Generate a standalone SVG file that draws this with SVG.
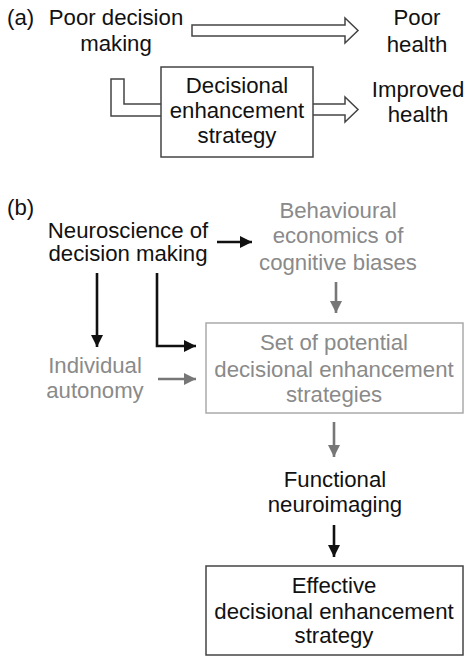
<svg xmlns="http://www.w3.org/2000/svg" width="464" height="656" viewBox="0 0 464 656">
<style>
text{font-family:"Liberation Sans",Arial,sans-serif;font-size:22.2px;text-anchor:middle;fill:#111}
.g{fill:#8a8a8a}
.lbl{text-anchor:start}
.hollow{fill:#fff;stroke:#444;stroke-width:1.5}
.box{fill:#fff;stroke:#444;stroke-width:1.5}
.gbox{fill:#fff;stroke:#aaa;stroke-width:1.5}
.ab{fill:none;stroke:#111;stroke-width:2.6;marker-end:url(#hb)}
.ag{fill:none;stroke:#777;stroke-width:2.6;marker-end:url(#hg)}
</style>
<defs>
<marker id="hb" markerUnits="userSpaceOnUse" markerWidth="13" markerHeight="13" refX="12" refY="6" orient="auto"><path d="M0,0 L12,6 L0,12 z" fill="#111"/></marker>
<marker id="hg" markerUnits="userSpaceOnUse" markerWidth="13" markerHeight="13" refX="12" refY="6" orient="auto"><path d="M0,0 L12,6 L0,12 z" fill="#777"/></marker>
</defs>
<text class="lbl" x="7" y="25">(a)</text>
<text class="lbl" x="7" y="215">(b)</text>
<g id="connectors">
<path class="hollow" d="M192,25 H345 V18 L358,30.5 L345,43 V36 H192 Z"/>
<path class="hollow" d="M313,104 H345 V97 L358,109.5 L345,122 V115 H313"/>
<path class="hollow" d="M161,104 H124 V79 H111 V116 H161"/>
<path class="ab" d="M217,242 H252"/>
<path class="ab" d="M97,273 V347"/>
<path class="ab" d="M157,273 V346 H196"/>
<path class="ag" d="M336,282 V313"/>
<path class="ag" d="M158,379 H196"/>
<path class="ag" d="M334,422 V457"/>
<path class="ab" d="M334,525 V557"/>
</g>
<g id="poor-decision"><text x="116" y="25">Poor decision</text><text x="116" y="51">making</text></g>
<g id="poor-health"><text x="417" y="25">Poor</text><text x="417" y="52">health</text></g>
<g id="des-a"><rect class="box" x="161" y="67" width="152" height="90"/><text x="237" y="93">Decisional</text><text x="237" y="118">enhancement</text><text x="237" y="143">strategy</text></g>
<g id="improved-health"><text x="418" y="97">Improved</text><text x="418" y="122">health</text></g>
<g id="neuroscience"><text x="128" y="238">Neuroscience of</text><text x="128" y="261">decision making</text></g>
<g id="behavioural"><text class="g" x="338" y="218">Behavioural</text><text class="g" x="338" y="243">economics of</text><text class="g" x="338" y="270">cognitive biases</text></g>
<g id="autonomy"><text class="g" x="95" y="373">Individual</text><text class="g" x="95" y="398">autonomy</text></g>
<g id="potential"><rect class="gbox" x="206" y="323" width="257" height="90"/><text class="g" x="334" y="350">Set of potential</text><text class="g" x="334" y="377">decisional enhancement</text><text class="g" x="334" y="402">strategies</text></g>
<g id="neuroimaging"><text x="335" y="487">Functional</text><text x="335" y="512">neuroimaging</text></g>
<g id="effective"><rect class="box" x="206" y="566" width="257" height="89"/><text x="334" y="593">Effective</text><text x="334" y="619">decisional enhancement</text><text x="334" y="643">strategy</text></g>
</svg>
